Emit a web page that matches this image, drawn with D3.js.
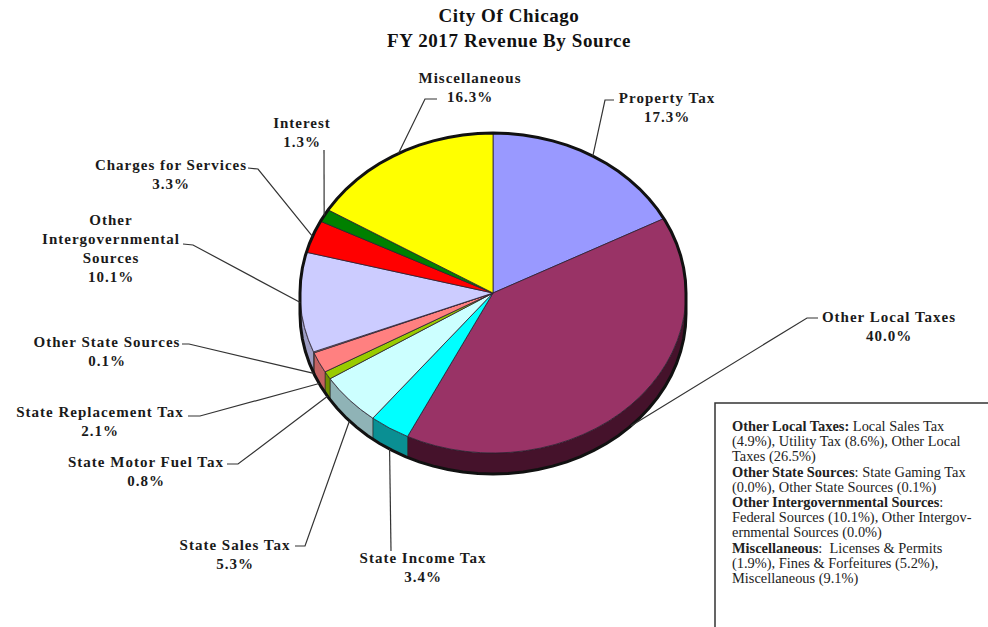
<!DOCTYPE html>
<html>
<head>
<meta charset="utf-8">
<script src="https://cdn.jsdelivr.net/npm/d3@7"></script>
<style>
  body { margin: 0; background: #fff; }
  svg { display: block; }
  text { font-family: "Liberation Serif", "DejaVu Serif", serif; }
  .note { white-space: pre; }
</style>
</head>
<body>
<div id="wrapper"></div>
<script>
// data
const categories = ["Property Tax", "Other Local Taxes", "State Income Tax", "State Sales Tax",
  "State Motor Fuel Tax", "State Replacement Tax", "Other State Sources",
  "Other Intergovernmental Sources", "Charges for Services", "Interest", "Miscellaneous"]
const shares = [17.3, 40.0, 3.4, 5.3, 0.8, 2.1, 0.1, 10.1, 3.3, 1.3, 16.3]
const labelLines = [
  ["Property Tax"], ["Other Local Taxes"], ["State Income Tax"], ["State Sales Tax"],
  ["State Motor Fuel Tax"], ["State Replacement Tax"], ["Other State Sources"],
  ["Other", "Intergovernmental", "Sources"], ["Charges for Services"], ["Interest"], ["Miscellaneous"]
]
const titleLines = ["City Of Chicago", "FY 2017 Revenue By Source"]
const noteLines = [
  [["Other Local Taxes:", true], [" Local Sales Tax", false]],
  [["(4.9%), Utility Tax (8.6%), Other Local", false]],
  [["Taxes (26.5%)", false]],
  [["Other State Sources", true], [": State Gaming Tax", false]],
  [["(0.0%), Other State Sources (0.1%)", false]],
  [["Other Intergovernmental Sources", true], [":", false]],
  [["Federal Sources (10.1%), Other Intergov-", false]],
  [["ernmental Sources (0.0%)", false]],
  [["Miscellaneous", true], [":  Licenses & Permits", false]],
  [["(1.9%), Fines & Forfeitures (5.2%),", false]],
  [["Miscellaneous (9.1%)", false]]
]

// styles
const topColors = ["#9999ff", "#993366", "#00ffff", "#ccffff", "#99cc00", "#ff8080",
  "#ffcc99", "#ccccff", "#ff0000", "#008000", "#ffff00"]
const sideColors = ["#6b6bb3", "#45122b", "#0a8f93", "#8fb3b6", "#6f9000", "#c46262",
  "#b38f6b", "#9d9dc4", "#b30000", "#005a00", "#b3b300"]

// label layout: text centre x, first baseline y, leader start and knee
const labelLayout = [
  { x: 667, y: 103, start: [614, 100], knee: [605, 100] },
  { x: 889, y: 322, start: [818, 318], knee: [807, 318] },
  { x: 423, y: 563, start: [391, 551], knee: [391, 551] },
  { x: 235, y: 550, start: [295, 546], knee: [305, 546] },
  { x: 146, y: 467, start: [227, 464], knee: [238, 464] },
  { x: 100, y: 417, start: [188, 416], knee: [200, 416] },
  { x: 107, y: 347, start: [182, 344], knee: [189, 344] },
  { x: 111, y: 225, start: [183, 244], knee: [193, 245] },
  { x: 171, y: 170, start: [248, 168], knee: [258, 169] },
  { x: 302, y: 128, start: [324, 150], knee: [324, 150] },
  { x: 470, y: 83, start: [437, 99], knee: [425, 99] }
]

const dims = {
  width: 988, height: 627,
  cx: 493, cy: 293, rx: 193, ry: 160, depth: 21,
  lineH: 19
}

const svg = d3.select("#wrapper").append("svg")
  .attr("width", dims.width)
  .attr("height", dims.height)

svg.append("rect").attr("width", dims.width).attr("height", dims.height).attr("fill", "#fff")

// title
svg.append("g").selectAll("text")
  .data(titleLines)
  .join("text")
    .attr("x", 509)
    .attr("y", (d, i) => 22 + i * 25)
    .attr("text-anchor", "middle")
    .attr("font-size", 19)
    .attr("font-weight", "bold")
    .attr("letter-spacing", 0.6)
    .attr("fill", "#111")
    .text(d => d)

// pie geometry
const arcs = d3.pie().sort(null).value(d => d)(shares)
const pt = (a, dy = 0) => [dims.cx + dims.rx * Math.sin(a), dims.cy - dims.ry * Math.cos(a) + dy]
const sample = (a0, a1) => d3.range(0, 41).map(i => a0 + (a1 - a0) * i / 40)
const line = d3.line()

// side walls (front half only)
const sides = svg.append("g")
sides.selectAll("path")
  .data(arcs.filter(d => Math.min(d.endAngle, 1.5 * Math.PI) > Math.max(d.startAngle, 0.5 * Math.PI)))
  .join("path")
    .attr("d", d => {
      const a0 = Math.max(d.startAngle, 0.5 * Math.PI)
      const a1 = Math.min(d.endAngle, 1.5 * Math.PI)
      const s = sample(a0, a1)
      return line([...s.map(a => pt(a)), ...s.reverse().map(a => pt(a, dims.depth))]) + "Z"
    })
    .attr("fill", d => sideColors[d.index])
    .attr("stroke", "#222")
    .attr("stroke-width", 0.6)

// top faces
const arcGen = d3.arc().innerRadius(0).outerRadius(dims.rx)
svg.append("g")
  .attr("transform", `translate(${dims.cx},${dims.cy}) scale(1,${dims.ry / dims.rx})`)
  .selectAll("path")
  .data(arcs)
  .join("path")
    .attr("d", arcGen)
    .attr("fill", d => topColors[d.index])
    .attr("stroke", "#2a2030")
    .attr("stroke-width", 0.8)
    .attr("vector-effect", "non-scaling-stroke")

// silhouette
const outline = [
  ...sample(-0.5 * Math.PI, 0.5 * Math.PI).map(a => pt(a)),
  ...sample(0.5 * Math.PI, 1.5 * Math.PI).map(a => pt(a, dims.depth))
]
svg.append("path")
  .attr("d", line(outline) + "Z")
  .attr("fill", "none")
  .attr("stroke", "#111")
  .attr("stroke-width", 3)

// leaders
const anchor = d => {
  const a = (d.startAngle + d.endAngle) / 2
  const front = a > 95 * Math.PI / 180 && a < 265 * Math.PI / 180
  return pt(a, front ? dims.depth : 0)
}
svg.append("g").selectAll("path")
  .data(arcs)
  .join("path")
    .attr("d", d => line([labelLayout[d.index].start, labelLayout[d.index].knee, anchor(d)]))
    .attr("fill", "none")
    .attr("stroke", "#333")
    .attr("stroke-width", 1.2)

// labels
const labels = svg.append("g").selectAll("text")
  .data(arcs)
  .join("text")
    .attr("text-anchor", "middle")
    .attr("font-size", 15)
    .attr("font-weight", "bold")
    .attr("letter-spacing", 1)
    .attr("fill", "#1a1a1a")

labels.selectAll("tspan")
  .data(d => [...labelLines[d.index], d3.format(".1f")(d.data) + "%"]
    .map(t => ({ t, i: d.index })))
  .join("tspan")
    .attr("x", d => labelLayout[d.i].x)
    .attr("y", (d, j) => labelLayout[d.i].y + j * dims.lineH)
    .text(d => d.t)

// note box
svg.append("rect")
  .attr("x", 715).attr("y", 403)
  .attr("width", 300).attr("height", 260)
  .attr("fill", "#fff")
  .attr("stroke", "#333")
  .attr("stroke-width", 1.5)

const note = svg.append("g").selectAll("text")
  .data(noteLines)
  .join("text")
    .attr("class", "note")
    .attr("x", 732)
    .attr("y", (d, i) => 431 + i * 15.2)
    .attr("font-size", 14.4)
    .attr("fill", "#222")

note.selectAll("tspan")
  .data(d => d)
  .join("tspan")
    .attr("font-weight", d => d[1] ? "bold" : "normal")
    .text(d => d[0])
</script>
</body>
</html>
